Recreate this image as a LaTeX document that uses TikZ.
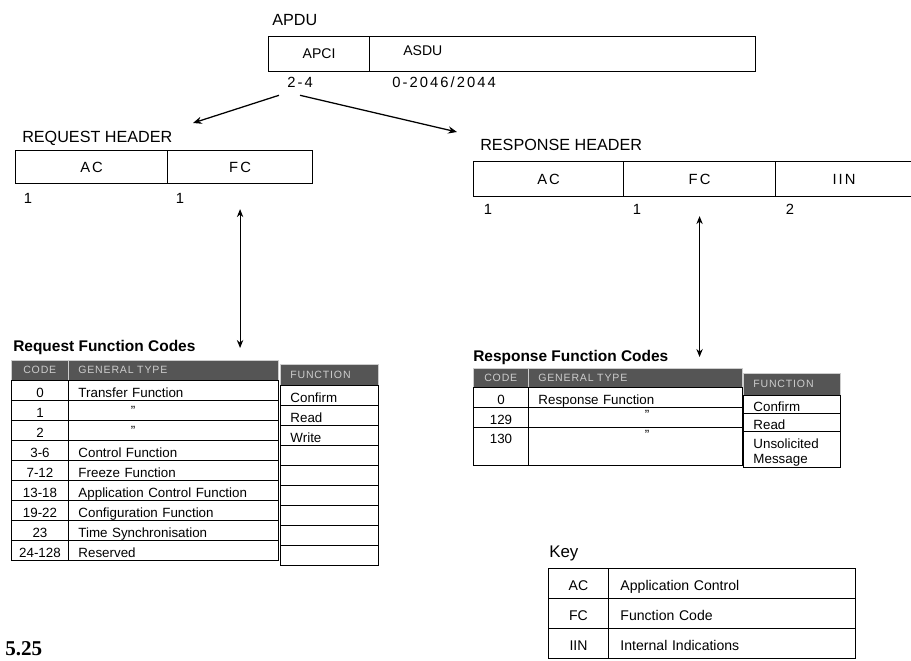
\documentclass[tikz,border=0pt]{standalone}
\usepackage{fontspec}
\setmainfont{Liberation Sans}
\newfontfamily\spcfont[LetterSpace=14]{Liberation Sans}
\newfontfamily\capfont[LetterSpace=8]{Liberation Sans}
\newfontfamily\numfont{Liberation Serif}
\usetikzlibrary{arrows.meta,positioning}
\definecolor{hdrgray}{RGB}{85,85,85}
\definecolor{hdrtext}{RGB}{205,205,205}
\tikzset{
  lbl/.style={inner sep=0pt,font=\fontsize{11.5}{13}\selectfont},
  len/.style={inner sep=0pt,font=\spcfont\fontsize{10.5}{12}\selectfont},
  fld/.style={draw,line width=0.8pt,anchor=north west,inner sep=0pt,
              minimum height=#1,font=\fontsize{10}{12}\selectfont},
  fld/.default=8.75mm,
  ttl/.style={inner sep=0pt,font=\fontsize{11}{13}\selectfont\bfseries},
  hdr/.style={draw=hdrtext,fill=hdrgray,text=hdrtext,anchor=north west,
              inner xsep=2.5mm,inner ysep=0pt,align=left,
              font=\capfont\fontsize{7.5}{8.5}\selectfont},
  cell/.style={draw,line width=0.7pt,anchor=north west,inner ysep=0pt,
               align=center,font=\fontsize{9.5}{11}\selectfont,text depth=0pt,
               execute at begin node=\rule{0pt}{9.6pt}},
  arr/.style={-{Stealth[length=2.2mm,width=1.8mm]},line width=0.9pt},
  dbl/.style={{Stealth[length=2mm,width=1.6mm]}-{Stealth[length=2mm,width=1.6mm]},
              line width=0.7pt},
}

\begin{document}
\begin{tikzpicture}[x=0.25mm,y=-0.25mm]
  \useasboundingbox (0,0) rectangle (911,660);

  % APDU
  \node[lbl,anchor=base west] (apdulbl) at (272,25) {APDU};
  \node[fld] (apci) at (268,36) [minimum width=25.25mm] {APCI};
  \node[fld] (asdufld) at (369,36) [minimum width=96.5mm] {};
  \node[lbl,anchor=west,font=\fontsize{10}{12}\selectfont] (asdu) at (403,51) {ASDU};
  \node[len,anchor=base,inner sep=2mm] (len24) at (300,87) {2-4};
  \node[len,anchor=base west] (lenasdu) at (392,87) {0-2046/2044};

  % request header
  \node[lbl,anchor=base west] (reqlbl) at (22,142) {REQUEST HEADER};
  \node[fld=8.25mm,font=\spcfont\fontsize{10.5}{12}\selectfont,minimum width=38mm]
    (rqac) at (15,150) {AC};
  \node[fld=8.25mm,font=\spcfont\fontsize{10.5}{12}\selectfont,minimum width=36.25mm]
    (rqfc) at (167,150) {FC};
  \node[len,anchor=base] (rqn1) at (28,203) {1};
  \node[len,anchor=base] (rqn2) at (180,203) {1};

  % response header
  \node[lbl,anchor=base west] (reslbl) at (480,150) {RESPONSE HEADER};
  \node[fld,font=\spcfont\fontsize{10.5}{12}\selectfont,minimum width=37.5mm]
    (rsac) at (473,161) {AC};
  \node[fld,font=\spcfont\fontsize{10.5}{12}\selectfont,minimum width=38mm]
    (rsfc) at (623,161) {FC};
  \node[fld,font=\spcfont\fontsize{10.5}{12}\selectfont,minimum width=34.25mm]
    (rsiin) at (775,161) {IIN};
  \node[len,anchor=base] (rsn1) at (488,214) {1};
  \node[len,anchor=base] (rsn2) at (637,214) {1};
  \node[len,anchor=base] (rsn3) at (790,214) {2};

  \coordinate (reqtip) at (193,123);
  \coordinate (restip) at (457,132);
  \draw[arr] (len24.south west) -- (reqtip);
  \draw[arr] (len24.south) -- (restip);

  % request function codes
  \node[ttl,anchor=base west] (rqttl) at (13,351) {Request Function Codes};
  \node[hdr,minimum width=14.25mm,minimum height=5mm] (rqhc) at (11,360) {CODE};
  \node[hdr,text width=47.5mm,minimum height=5mm] (rqhg) at (68,360) {GENERAL TYPE};
  \node[hdr,text width=19.5mm,minimum height=5.25mm] (rqhf) at (280,364) {FUNCTION};
  \foreach \c/\t/\f [count=\i from 0] in {0/Transfer Function/Confirm, 1//Read,
      2//Write, 3-6/Control Function/, 7-12/Freeze Function/,
      13-18/Application Control Function/, 19-22/Configuration Function/,
      23/Time Synchronisation/, 24-128/Reserved/}{
    \node[cell,minimum width=14.25mm,minimum height=5mm] (rqc\i) at (11,380+20*\i) {\c};
    \node[cell,text width=47.5mm,inner xsep=2.5mm,align=left,minimum height=5mm]
      (rqt\i) at (68,380+20*\i) {\t};
    \node[cell,text width=19.5mm,inner xsep=2.5mm,align=left,minimum height=5mm]
      (rqf\i) at (280,385+20*\i) {\f};
  }
  \foreach \i in {1,2}
    \node[inner sep=0pt,font=\fontsize{9.5}{11}\selectfont] (rqd\i) at (133,391+20*\i) {"};

  % response function codes
  \node[ttl,anchor=base west] (rsttl) at (473,361) {Response Function Codes};
  \node[hdr,minimum width=13.75mm,minimum height=4.75mm] (rshc) at (473,368) {CODE};
  \node[hdr,text width=48.5mm,minimum height=4.75mm] (rshg) at (528,368) {GENERAL TYPE};
  \node[hdr,text width=19.25mm,minimum height=5.5mm] (rshf) at (743,373) {FUNCTION};
  \foreach \c/\t/\f/\h/\d [count=\i from 0] in {0/Response Function/Confirm/5mm/0pt,
      129//Read/5mm/0pt, {130\\~}//{Unsolicited\\Message}/9.5mm/11pt}{
    \node[cell,minimum width=13.75mm,minimum height=\h] (rsc\i) at (473,387+20*\i) {\c};
    \node[cell,text width=48.5mm,inner xsep=2.5mm,align=left,minimum height=\h]
      (rst\i) at (528,387+20*\i) {\t};
    \node[cell,text width=19.25mm,inner xsep=2.5mm,align=left,minimum height=\h-0.5mm,
      text depth=\d] (rsf\i) at (743,395+18*\i) {\f};
  }
  \foreach \i in {1,2}
    \node[inner sep=0pt,font=\fontsize{9.5}{11}\selectfont] (rsd\i) at (647,395+20*\i) {"};

  \draw[dbl,shorten <=6.25mm,shorten >=3mm] (rqfc.south) -- (rqfc.south |- rqhg.north);
  \draw[dbl,shorten <=4.75mm,shorten >=2.75mm] (rsfc.south) -- (rsfc.south |- rshg.north);

  % key
  \node[inner sep=0pt,anchor=base west,font=\fontsize{12}{14}\selectfont] (keylbl)
    at (549,557) {Key};
  \foreach \a/\n [count=\i from 0] in {AC/Application Control, FC/Function Code,
      IIN/Internal Indications}{
    \node[cell,font=\fontsize{10}{12}\selectfont,minimum width=15mm,minimum height=7.5mm]
      (ka\i) at (548,568+30*\i) {\a};
    \node[cell,font=\fontsize{10}{12}\selectfont,text width=55.75mm,inner xsep=3mm,
      align=left,minimum height=7.5mm] (kn\i) at (608,568+30*\i) {\n};
  }

  \node[inner sep=0pt,anchor=base west,font=\numfont\bfseries\fontsize{15}{17}\selectfont]
    (fignum) at (5,655) {5.25};
\end{tikzpicture}
\end{document}
